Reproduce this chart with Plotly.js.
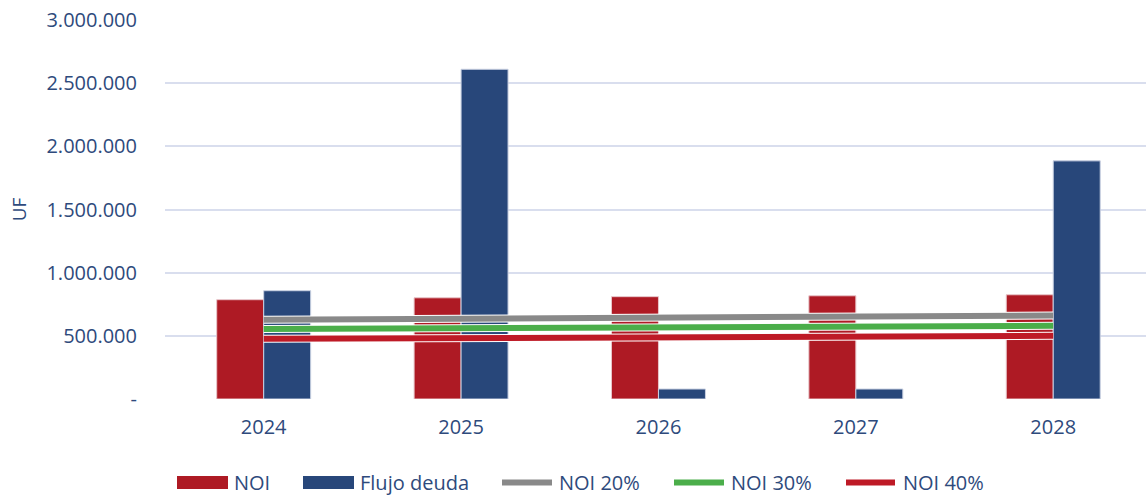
<!DOCTYPE html>
<html>
<head>
<meta charset="utf-8">
<script src="https://cdn.plot.ly/plotly-3.0.1.min.js"></script>
<style>html,body{margin:0;padding:0;background:#fff;}#chart{width:1146px;height:496px;}</style>
</head>
<body>
<div id="chart"></div>
<script>
const years = ['2024', '2025', '2026', '2027', '2028'];
const noi = [786000, 801000, 810000, 817000, 825000];
const flujoDeuda = [857000, 2610000, 79000, 79000, 1885000];
const noi20 = [628000, 636000, 644000, 652000, 660000];
const noi30 = [555000, 561000, 567000, 573000, 579000];
const noi40 = [476000, 482000, 488000, 494000, 500000];
const yTickVals = [0, 500000, 1000000, 1500000, 2000000, 2500000, 3000000];
const yTickText = ['-', '500.000', '1.000.000', '1.500.000', '2.000.000', '2.500.000', '3.000.000'];
const seriesNames = ['NOI', 'Flujo deuda', 'NOI 20%', 'NOI 30%', 'NOI 40%'];
const seriesColors = ['#AE1A24', '#28477A', '#898989', '#4BAE4A', '#BE1A26'];

const textColor = '#2E4A7C';
const fontFamily = '"Open Sans", "Noto Sans", sans-serif';

// plot-area geometry (pixels) for placing the hand-made legend
const W = 1146, H = 496, mL = 165, mR = 0, mT = 20, mB = 97;
const pw = W - mL - mR, ph = H - mT - mB;
const px = x => (x - mL) / pw;
const py = y => (H - mB - y) / ph;

function lineTrace(idx, y) {
  return [
    {type: 'scatter', mode: 'lines', x: years, y: y, showlegend: false, hoverinfo: 'skip',
     line: {color: '#ffffff', width: 8}},
    {type: 'scatter', mode: 'lines', name: seriesNames[idx], x: years, y: y,
     line: {color: seriesColors[idx], width: 6}}
  ];
}

const data = [
  {type: 'bar', name: seriesNames[0], x: years, y: noi,
   marker: {color: seriesColors[0], line: {color: '#E8C6CA', width: 1}}},
  {type: 'bar', name: seriesNames[1], x: years, y: flujoDeuda,
   marker: {color: seriesColors[1], line: {color: '#C9D1E2', width: 1}}},
  ...lineTrace(2, noi20),
  ...lineTrace(3, noi30),
  ...lineTrace(4, noi40)
];

// custom legend (symbol start x, symbol end x, text start x)
const legendPos = [[177, 228, 232], [303, 354, 358], [499, 555, 557], [671, 727, 729], [843, 898, 901]];
const legendY = 482.5;
const shapes = [];
const annotations = [];
legendPos.forEach((p, i) => {
  if (i < 2) {
    shapes.push({type: 'rect', xref: 'paper', yref: 'paper', x0: px(p[0]), x1: px(p[1]),
      y0: py(legendY - 6.5), y1: py(legendY + 6.5), fillcolor: seriesColors[i], line: {width: 0}});
  } else {
    shapes.push({type: 'line', xref: 'paper', yref: 'paper', x0: px(p[0] + 3), x1: px(p[1] - 3),
      y0: py(legendY), y1: py(legendY), line: {color: seriesColors[i], width: 6}});
  }
  annotations.push({xref: 'paper', yref: 'paper', x: px(p[2]), y: py(legendY), xanchor: 'left',
    yanchor: 'middle', showarrow: false, text: seriesNames[i], font: {size: 20, color: textColor}});
});

const layout = {
  width: W, height: H,
  margin: {l: mL, r: mR, t: mT, b: mB},
  paper_bgcolor: '#ffffff', plot_bgcolor: '#ffffff',
  font: {family: fontFamily, size: 20, color: textColor},
  barmode: 'group', bargap: 0.524, bargroupgap: 0,
  showlegend: false,
  shapes: shapes,
  annotations: annotations,
  xaxis: {type: 'category', range: [-0.5, 4.47], showgrid: false, zeroline: false,
          showline: false, ticks: '', ticklabelstandoff: 14, tickfont: {size: 20, color: textColor}, fixedrange: true},
  yaxis: {range: [0, 3000000], tickvals: yTickVals, ticktext: yTickText,
          showgrid: true, gridcolor: '#D9DEEE', gridwidth: 2, zeroline: false, showline: false,
          ticks: '', ticklabelstandoff: 27, tickfont: {size: 20, color: textColor},
          title: {text: 'UF', font: {size: 19, color: textColor}, standoff: 14}, fixedrange: true}
};

Plotly.newPlot('chart', data, layout, {displayModeBar: false, staticPlot: true});
</script>
</body>
</html>
